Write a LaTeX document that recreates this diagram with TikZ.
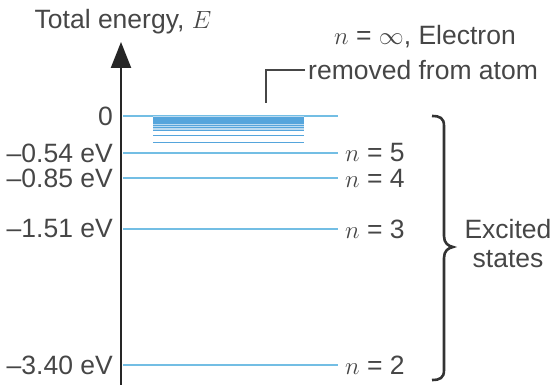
\documentclass[tikz,border=0pt]{standalone}
\usepackage{fontspec}
\setmainfont{Liberation Sans}
\usetikzlibrary{arrows.meta}
\definecolor{labelgray}{RGB}{70,70,70}
\definecolor{levelblue}{RGB}{115,190,228}
\definecolor{bandblue}{RGB}{85,165,220}
\tikzset{
  lbl/.style={text=labelgray, font=\fontsize{26.5}{29}\selectfont, inner sep=0pt},
  level/.style={levelblue, line width=1.8pt},
}
\begin{document}
\begin{tikzpicture}[x=1pt,y=-1pt]
    \useasboundingbox (0,0) rectangle (558,385);

    % Energy axis
    \coordinate (axisbottom) at (121,385);
    \coordinate (axistop) at (121,42);
    \draw[line width=2.4pt, black!85, -{Triangle[length=26pt,width=20pt]}]
        (axisbottom) -- (axistop);
    \node[lbl] (title) at (123,22) {Total energy, $E$};

    % Ionisation limit
    \coordinate (zerol) at (123,116);
    \coordinate (zeror) at (338,116);
    \draw[level] (zerol) -- (zeror);
    \node[lbl, anchor=east] (ezero) at (113,116) {0};

    % Converging levels near zero
    \fill[bandblue!40] (153,116) rectangle (304,130);
    \foreach \k in {6,...,30}
        \draw[bandblue, line width=0.9pt]
            (153,{116+952/(\k*\k)}) -- (304,{116+952/(\k*\k)});

    % Bound levels
    \foreach \y/\val/\n in {153/–0.54 eV/5, 178/–0.85 eV/4,
                            229/–1.51 eV/3, 365/–3.40 eV/2} {
        \coordinate (lvl\n l) at (123,\y);
        \coordinate (lvl\n r) at (338,\y);
        \draw[level] (lvl\n l) -- (lvl\n r);
        \node[lbl, anchor=east] (e\n) at (113,\y) {\val};
        \node[lbl, anchor=west] (n\n) at (345,\y) {$n$ = \n};
    }

    % Label for n = infinity
    \node[lbl] (ninf) at (425,37) {$n$ = $\infty$, Electron};
    \node[lbl, anchor=west] (removed) at (308,70) {removed from atom};
    \coordinate (bandtop) at (266,103);
    \draw[labelgray, line width=1.4pt] ([xshift=-3pt]removed.west) -| (bandtop);

    % Brace for excited states
    \draw[black!80, line width=2.6pt]
        (432,116) .. controls (440,116) and (444,118) .. (444,126)
        -- (444,236) .. controls (444,243) and (448,246) .. (453,247)
        .. controls (448,248) and (444,251) .. (444,258)
        -- (444,370) .. controls (444,378) and (440,380) .. (432,380);
    \node[lbl, align=center] (excited) at (508,244) {Excited\\states};
\end{tikzpicture}
\end{document}
